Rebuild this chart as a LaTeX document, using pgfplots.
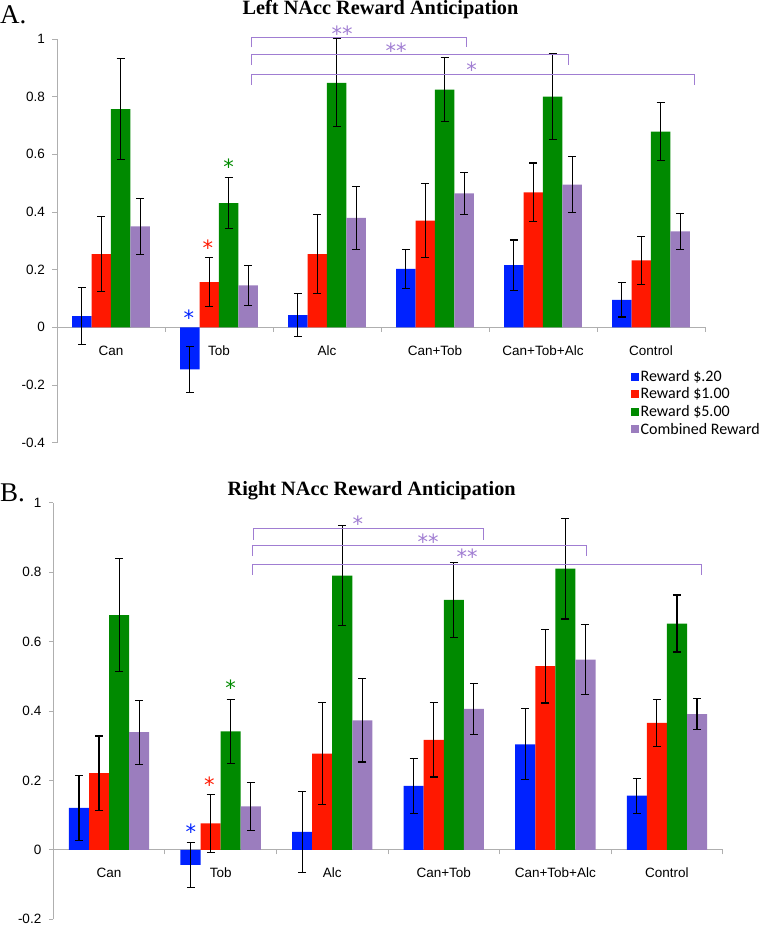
\documentclass[border=0pt]{standalone}
\usepackage{pgfplots}
\pgfplotsset{compat=1.18}
\usepackage{fontspec}
\setmainfont{Liberation Sans}
\newfontfamily\serif{Liberation Serif}
\newfontfamily\leg{Carlito}
\newfontfamily\dejavu{DejaVu Sans}
\definecolor{cblue}{RGB}{0,34,255}
\definecolor{cred}{RGB}{255,24,0}
\definecolor{cgreen}{RGB}{0,138,0}
\definecolor{cpurple}{RGB}{155,125,190}
\definecolor{cbracket}{RGB}{160,125,210}
\definecolor{caxis}{RGB}{175,175,175}
\tikzset{sigstar/.style={font=\dejavu\fontsize{21}{21}\selectfont, inner sep=0pt, anchor=north, yshift=4.5pt}}
\pgfplotsset{
  mybar/.style={ybar, bar width=0.18, bar shift=0pt, draw=none, fill=#1,
    legend image code/.code={\fill[#1] (0pt,-4pt) rectangle (8pt,4pt);},
    /pgfplots/error bars/y dir=both,
    /pgfplots/error bars/y explicit,
    /pgfplots/error bars/error bar style={draw=black, line width=1.1pt},
    /pgfplots/error bars/error mark options={draw=black, mark size=4pt, line width=1.1pt, rotate=90}},
  bracket/.style={sharp plot, no marks, draw=cbracket, line width=0.9pt, forget plot},
  panel/.style={scale only axis, clip=false,
    axis x line=middle, axis y line=left,
    axis line style={caxis, line width=0.8pt, -},
    xmin=-0.5, xmax=5.5,
    xtick={-0.5,0.5,...,5.5}, xticklabels={},
    extra x ticks={0,1,2,3,4,5},
    extra x tick labels={Can,Tob,Alc,Can+Tob,Can+Tob+Alc,Control},
    extra x tick style={major tick length=0pt, xticklabel style={anchor=base, yshift=-28pt}},
    tick style={caxis, line width=0.8pt},
    tick align=outside, major tick length=4.5pt,
    ticklabel style={font=\fontsize{13.5}{16}\selectfont},
    yticklabel style={xshift=-4pt},
  },
}
\begin{document}
\begin{tikzpicture}
\path[use as bounding box] (0pt,0pt) rectangle (762pt,927pt);
\node[anchor=base west, inner sep=0pt, font=\serif\fontsize{27}{27}\selectfont] at (0pt,903.7pt) {A.};
\node[anchor=base, inner sep=0pt, font=\serif\bfseries\fontsize{20.3}{21}\selectfont] at (380.5pt,912.7pt) {Left NAcc Reward Anticipation};
\node[anchor=base west, inner sep=0pt, font=\serif\fontsize{27}{27}\selectfont] at (0pt,425.3pt) {B.};
\node[anchor=base, inner sep=0pt, font=\serif\bfseries\fontsize{20.3}{21}\selectfont] at (371.7pt,431.3pt) {Right NAcc Reward Anticipation};

% ---------------- Panel A ----------------
\begin{axis}[panel, at={(57pt,484.3pt)}, anchor=south west, width=648pt, height=403.7pt,
  ymin=-0.4, ymax=1,
  ytick={-0.4,-0.2,0,0.2,0.4,0.6,0.8,1},
  yticklabels={-0.4,-0.2,0,0.2,0.4,0.6,0.8,1},
  legend style={at={(axis description cs:0.885,0.185)}, anchor=north west, draw=none, fill=none,
    font=\leg\fontsize{16}{18}\selectfont, row sep=1pt, inner sep=0pt},
  legend cell align=left,
  ]
\addplot[mybar=cblue] coordinates {
 (-0.27,0.039) +- (0,0.098) (0.73,-0.146) +- (0,0.081) (1.73,0.042) +- (0,0.075)
 (2.73,0.203) +- (0,0.068) (3.73,0.216) +- (0,0.087) (4.73,0.095) +- (0,0.059)};
\addlegendentry{Reward \$.20}
\addplot[mybar=cred] coordinates {
 (-0.09,0.254) +- (0,0.129) (0.91,0.157) +- (0,0.086) (1.91,0.254) +- (0,0.136)
 (2.91,0.370) +- (0,0.128) (3.91,0.468) +- (0,0.102) (4.91,0.232) +- (0,0.082)};
\addlegendentry{Reward \$1.00}
\addplot[mybar=cgreen] coordinates {
 (0.09,0.757) +- (0,0.174) (1.09,0.431) +- (0,0.089) (2.09,0.848) +- (0,0.153)
 (3.09,0.824) +- (0,0.111) (4.09,0.800) +- (0,0.149) (5.09,0.679) +- (0,0.100)};
\addlegendentry{Reward \$5.00}
\addplot[mybar=cpurple] coordinates {
 (0.27,0.350) +- (0,0.096) (1.27,0.146) +- (0,0.070) (2.27,0.380) +- (0,0.110)
 (3.27,0.465) +- (0,0.073) (4.27,0.495) +- (0,0.096) (5.27,0.333) +- (0,0.063)};
\addlegendentry{Combined Reward}
\addplot[bracket] coordinates {(1.3,0.971) (1.3,1.006) (3.287,1.006) (3.287,0.971)};
\addplot[bracket] coordinates {(1.3,0.909) (1.3,0.948) (4.24,0.948) (4.24,0.909)};
\addplot[bracket] coordinates {(1.3,0.841) (1.3,0.878) (5.40,0.878) (5.40,0.841)};
\node[sigstar, text=cblue] at (axis cs:0.722,0.046) {*};
\node[sigstar, text=cred] at (axis cs:0.898,0.289) {*};
\node[sigstar, text=cgreen] at (axis cs:1.09,0.569) {*};
\node[sigstar, text=cbracket] at (axis cs:2.14,1.031) {**};
\node[sigstar, text=cbracket] at (axis cs:2.64,0.972) {**};
\node[sigstar, text=cbracket] at (axis cs:3.34,0.906) {*};
\end{axis}

% ---------------- Panel B ----------------
\begin{axis}[panel, at={(53.3pt,7.7pt)}, anchor=south west, width=669.4pt, height=416.6pt,
  ymin=-0.2, ymax=1,
  ytick={-0.2,0,0.2,0.4,0.6,0.8,1},
  yticklabels={-0.2,0,0.2,0.4,0.6,0.8,1},
  ]
\addplot[mybar=cblue] coordinates {
 (-0.27,0.121) +- (0,0.093) (0.73,-0.043) +- (0,0.065) (1.73,0.052) +- (0,0.116)
 (2.73,0.184) +- (0,0.080) (3.73,0.304) +- (0,0.102) (4.73,0.156) +- (0,0.050)};
\addplot[mybar=cred] coordinates {
 (-0.09,0.221) +- (0,0.107) (0.91,0.076) +- (0,0.083) (1.91,0.277) +- (0,0.147)
 (2.91,0.317) +- (0,0.107) (3.91,0.529) +- (0,0.106) (4.91,0.366) +- (0,0.068)};
\addplot[mybar=cgreen] coordinates {
 (0.09,0.676) +- (0,0.162) (1.09,0.341) +- (0,0.092) (2.09,0.790) +- (0,0.144)
 (3.09,0.720) +- (0,0.109) (4.09,0.810) +- (0,0.145) (5.09,0.652) +- (0,0.082)};
\addplot[mybar=cpurple] coordinates {
 (0.27,0.339) +- (0,0.092) (1.27,0.125) +- (0,0.069) (2.27,0.373) +- (0,0.120)
 (3.27,0.406) +- (0,0.074) (4.27,0.548) +- (0,0.100) (5.27,0.391) +- (0,0.044)};
\addplot[bracket] coordinates {(1.292,0.893) (1.292,0.925) (3.36,0.925) (3.36,0.893)};
\addplot[bracket] coordinates {(1.283,0.846) (1.283,0.876) (4.28,0.876) (4.28,0.846)};
\addplot[bracket] coordinates {(1.283,0.792) (1.283,0.822) (5.31,0.822) (5.31,0.792)};
\node[sigstar, text=cblue] at (axis cs:0.734,0.062) {*};
\node[sigstar, text=cred] at (axis cs:0.90,0.198) {*};
\node[sigstar, text=cgreen] at (axis cs:1.09,0.478) {*};
\node[sigstar, text=cbracket] at (axis cs:2.23,0.950) {*};
\node[sigstar, text=cbracket] at (axis cs:2.86,0.897) {**};
\node[sigstar, text=cbracket] at (axis cs:3.21,0.854) {**};
\end{axis}
\end{tikzpicture}
\end{document}
